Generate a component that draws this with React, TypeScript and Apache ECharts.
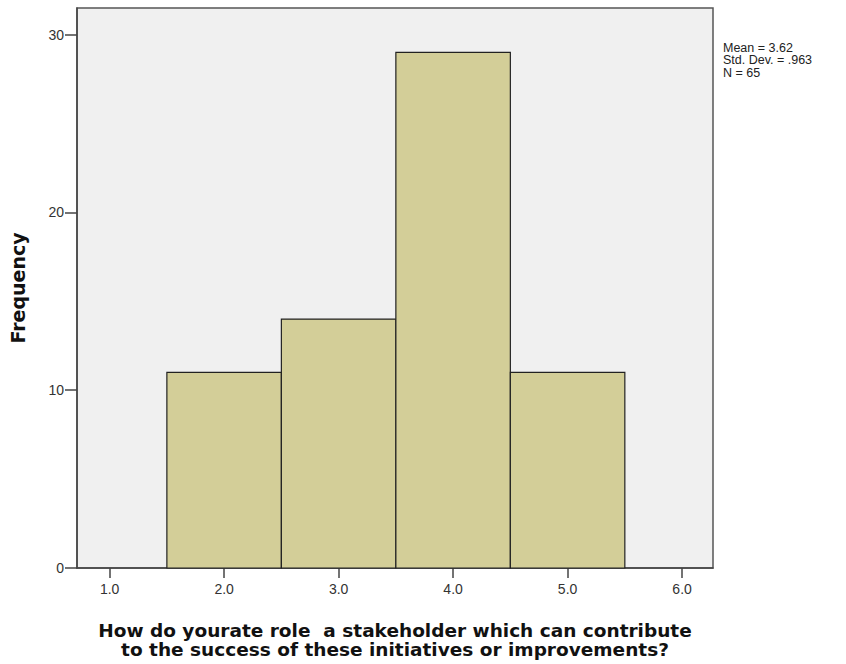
import React, { useEffect, useRef } from "react";
import * as echarts from "echarts";

const binStarts = [1.5, 2.5, 3.5, 4.5];
const binEnds = [2.5, 3.5, 4.5, 5.5];
const frequencies = [11, 14, 29, 11];
const xTicks = [1, 2, 3, 4, 5, 6];
const yTicks = [0, 10, 20, 30];
const statsLines = ["Mean = 3.62", "Std. Dev. = .963", "N = 65"];
const xTitle = "How do yourate role  a stakeholder which can contribute\nto the success of these initiatives or improvements?";
const yTitle = "Frequency";

export default function App() {
  const ref = useRef<HTMLDivElement>(null);
  useEffect(() => {
    const chart = echarts.init(ref.current!, undefined, { renderer: "svg" });
    const data = binStarts.map((s, i) => [s, binEnds[i], frequencies[i]]);
    chart.setOption({
      animation: false,
      backgroundColor: "#ffffff",
      textStyle: { fontFamily: "Liberation Sans, Arial, sans-serif" },
      grid: {
        left: 75,
        right: 133,
        top: 8,
        bottom: 95,
        show: true,
        backgroundColor: "#f0f0f0",
        borderColor: "#555555",
        borderWidth: 1.5,
      },
      xAxis: {
        type: "value",
        min: 0.715,
        max: 6.27,
        splitLine: { show: false },
        axisLine: { show: true, lineStyle: { color: "#444444", width: 1.5 } },
        axisTick: {
          show: true,
          length: 10,
          lineStyle: { color: "#444444", width: 1.5 },
          customValues: xTicks,
        },
        axisLabel: {
          customValues: xTicks,
          formatter: (v: number) => v.toFixed(1),
          color: "#333333",
          fontSize: 14,
          margin: 14,
        },
        name: xTitle,
        nameLocation: "middle",
        nameGap: 53,
        nameTextStyle: {
          fontSize: 18.5,
          fontWeight: "bold",
          color: "#111111",
          lineHeight: 19,
          align: "center",
          fontFamily: "DejaVu Sans, sans-serif",
        },
      },
      yAxis: {
        type: "value",
        min: 0,
        max: 31.5,
        splitLine: { show: false },
        axisLine: { show: true, lineStyle: { color: "#444444", width: 1.5 } },
        axisTick: {
          show: true,
          length: 12,
          lineStyle: { color: "#444444", width: 1.5 },
          customValues: yTicks,
        },
        axisLabel: {
          customValues: yTicks,
          color: "#333333",
          fontSize: 14,
          margin: 13,
        },
        name: yTitle,
        nameLocation: "middle",
        nameGap: 50,
        nameTextStyle: {
          fontSize: 19,
          fontWeight: "bold",
          color: "#111111",
          fontFamily: "DejaVu Sans, sans-serif",
        },
      },
      graphic: [
        {
          type: "text",
          left: 723,
          top: 41,
          style: {
            text: statsLines.join("\n"),
            fontSize: 12.5,
            lineHeight: 12.5,
            fill: "#222222",
            fontFamily: "Liberation Sans, Arial, sans-serif",
          },
        },
      ],
      series: [
        {
          type: "custom",
          data,
          renderItem: (params: any, api: any) => {
            const x0 = api.value(0);
            const x1 = api.value(1);
            const y = api.value(2);
            const p0 = api.coord([x0, y]);
            const p1 = api.coord([x1, 0]);
            return {
              type: "rect",
              shape: { x: p0[0], y: p0[1], width: p1[0] - p0[0], height: p1[1] - p0[1] },
              style: { fill: "#d3ce98", stroke: "#222222", lineWidth: 1.2 },
            };
          },
        },
      ],
    });
    return () => chart.dispose();
  }, []);
  return (
    <div
      ref={ref}
      style={{ position: "absolute", left: 0, top: 0, width: 846, height: 664 }}
    />
  );
}
